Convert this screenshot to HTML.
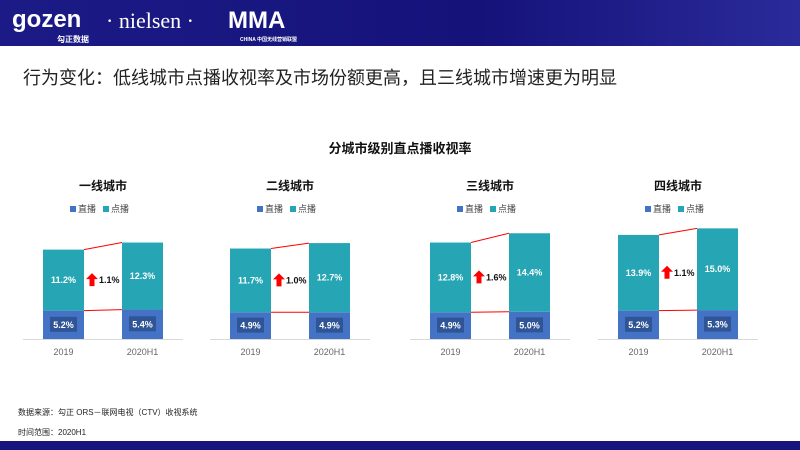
<!DOCTYPE html>
<html><head><meta charset="utf-8"><style>
body{margin:0;width:800px;height:450px;overflow:hidden;background:#fff;font-family:"Liberation Sans","Noto Sans CJK SC",sans-serif;position:relative}
.hdr{position:absolute;left:0;top:0;width:800px;height:46px;background:linear-gradient(90deg,#1c1a86,#15137a 60%,#2a2a9a)}
.ftr{position:absolute;left:0;top:441px;width:800px;height:9px;background:#17157c}
.t{position:absolute;white-space:nowrap}
</style></head><body>
<div class="hdr">
<span class="t" style="left:12px;top:6px;color:#fff;font-size:24px;font-weight:bold">gozen<span style="font-size:8px;position:absolute;left:45px;top:28px">勾正数据</span></span>
<span class="t" style="left:106px;top:8px;color:#fff;font-size:22px;font-family:'Liberation Serif',serif">· nielsen ·</span>
<span class="t" style="left:228px;top:7px;color:#fff;font-size:24px;font-weight:bold">MMA<span style="font-size:5px;position:absolute;left:12px;top:29px">CHINA 中国无线营销联盟</span></span>
</div>
<div class="t" style="left:23px;top:64px;font-size:18px;color:#222">行为变化：低线城市点播收视率及市场份额更高，且三线城市增速更为明显</div>
<div class="t" style="left:0;width:800px;text-align:center;top:138px;font-size:13px;font-weight:bold;color:#111">分城市级别直点播收视率</div>
<svg id="c" width="800" height="450" style="position:absolute;left:0;top:0"></svg>
<div class="t" style="left:18px;top:407px;font-size:8px;color:#222">数据来源：勾正 ORS－联网电视（CTV）收视系统</div>
<div class="t" style="left:18px;top:427px;font-size:8px;color:#222">时间范围：2020H1</div>
<div class="ftr"></div>
<script>
const cities=["一线城市","二线城市","三线城市","四线城市"];
const periods=["2019","2020H1"];
const live=[[5.2,5.4],[4.9,4.9],[4.9,5.0],[5.2,5.3]];
const vod=[[11.2,12.3],[11.7,12.7],[12.8,14.4],[13.9,15.0]];
const growth=["1.1%","1.0%","1.6%","1.1%"];
const NS="http://www.w3.org/2000/svg";
const svg=document.getElementById('c');
const panelX=[23,210,410,598];
const base=339, k=5.45;
const y=v=>base-v*k;
function mk(t,a,p){const e=document.createElementNS(NS,t);for(const n in a)e.setAttribute(n,a[n]);(p||svg).appendChild(e);return e;}
function tx(x,yy,s,a){const e=mk('text',Object.assign({x:x,y:yy,'font-family':'Liberation Sans,Noto Sans CJK SC,sans-serif'},a));e.textContent=s;return e;}
cities.forEach((c,i)=>{
 const g=mk('g',{});
 
 
 const px=panelX[i], bx=[px+20,px+99], bw=41;
 g.appendChild(tx(px+80,190,c,{'font-size':12,'font-weight':'bold','text-anchor':'middle',fill:'#111'}));
 const l1=mk('rect',{x:px+47,y:206,width:6,height:6,fill:'#4472c4'},g);
 
 g.appendChild(tx(px+55,212,'直播',{'font-size':9,fill:'#444'}));
 const l2=mk('rect',{x:px+80,y:206,width:6,height:6,fill:'#26a5b4'},g);
 
 g.appendChild(tx(px+88,212,'点播',{'font-size':9,fill:'#444'}));
 const ax=mk('line',{x1:px,x2:px+160,y1:base+0.5,y2:base+0.5,stroke:'#d9d9d9'},g);
 
 periods.forEach((p,j)=>{
  const x=bx[j],lv=live[i][j],vv=vod[i][j];
  const r1=mk('rect',{x:x,y:y(lv),width:bw,height:lv*k,fill:'#4472c4'},g);
  
  const r2=mk('rect',{x:x,y:y(lv+vv),width:bw,height:vv*k,fill:'#26a5b4'},g);
  
  mk('rect',{x:x+7,y:y(lv/2)-8,width:bw-14,height:15,fill:'#2f5597'},g);
  g.appendChild(tx(x+bw/2,y(lv/2)+3,lv.toFixed(1)+'%',{'font-size':9,'font-weight':'bold','text-anchor':'middle',fill:'#fff'}));
  g.appendChild(tx(x+bw/2,y(lv+vv/2)+3,vv.toFixed(1)+'%',{'font-size':9,'font-weight':'bold','text-anchor':'middle',fill:'#fff'}));
  g.appendChild(tx(x+bw/2,base+16,p,{'font-size':9,'text-anchor':'middle',fill:'#666'}));
 });
 mk('line',{x1:bx[0]+bw,y1:y(live[i][0]+vod[i][0]),x2:bx[1],y2:y(live[i][1]+vod[i][1]),stroke:'#f00','stroke-width':1},g);
 mk('line',{x1:bx[0]+bw,y1:y(live[i][0]),x2:bx[1],y2:y(live[i][1]),stroke:'#f00','stroke-width':1},g);
 const mid=(y(live[i][0]+vod[i][0])+y(live[i][0]))/2;
 const ar=mk('path',{d:`M${px+69},${mid-7} l6,6 h-3.5 v7 h-5 v-7 h-3.5 z`,fill:'#f00'},g);
 
 g.appendChild(tx(px+76,mid+3,growth[i],{'font-size':9,'font-weight':'bold',fill:'#111'}));
});
</script>
</body></html>
